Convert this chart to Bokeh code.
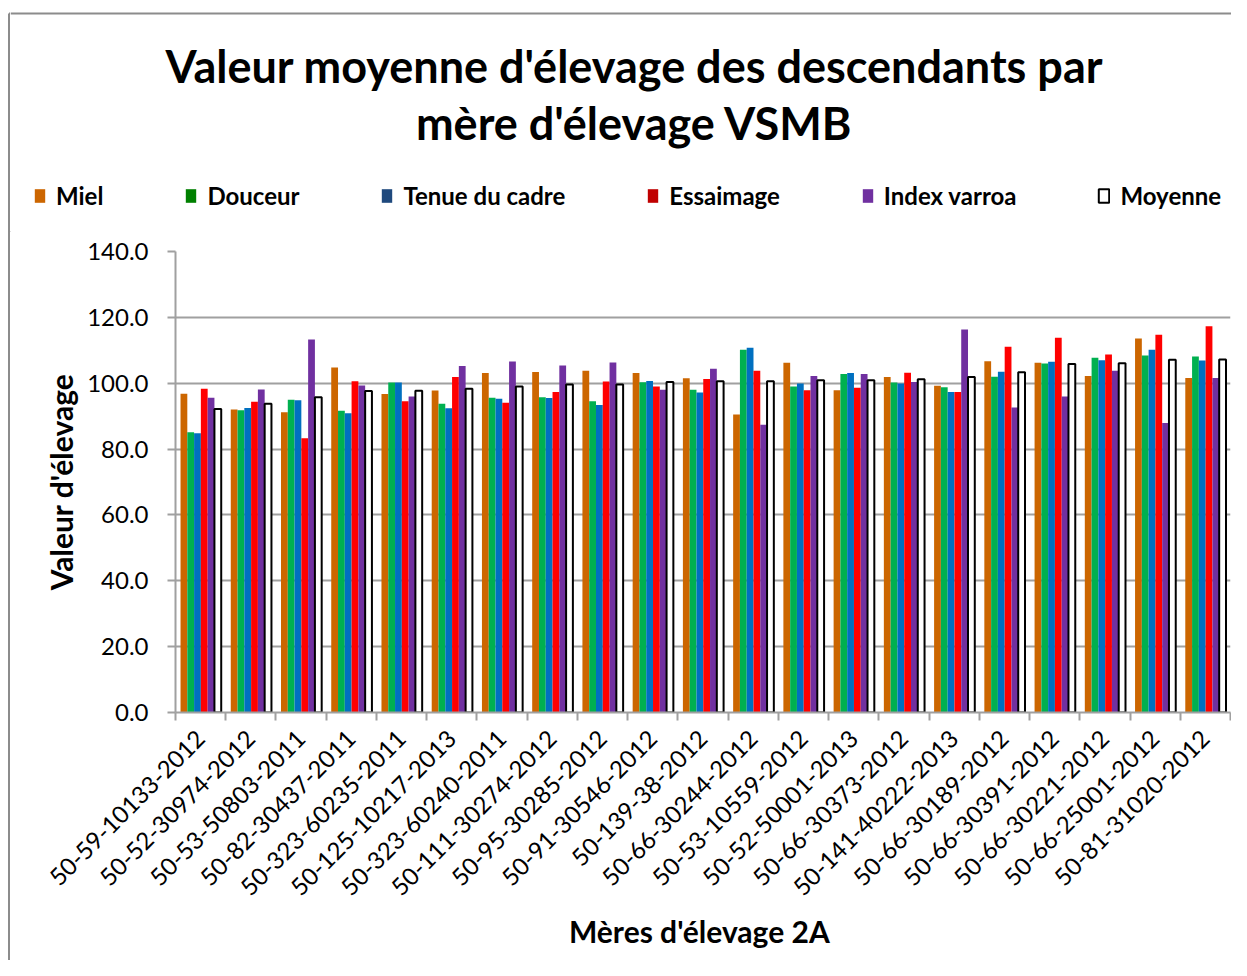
from bokeh.plotting import figure
from bokeh.layouts import column, row
from bokeh.models import (Range1d, FixedTicker, Legend, LegendItem, Label, Span,
                          NumeralTickFormatter)
from bokeh.embed import file_html
from bokeh.resources import INLINE

categories = ["50-59-10133-2012", "50-52-30974-2012", "50-53-50803-2011", "50-82-30437-2011",
              "50-323-60235-2011", "50-125-10217-2013", "50-323-60240-2011", "50-111-30274-2012",
              "50-95-30285-2012", "50-91-30546-2012", "50-139-38-2012", "50-66-30244-2012",
              "50-53-10559-2012", "50-52-50001-2013", "50-66-30373-2012", "50-141-40222-2013",
              "50-66-30189-2012", "50-66-30391-2012", "50-66-30221-2012", "50-66-25001-2012",
              "50-81-31020-2012"]
miel = [96.8, 92.0, 91.2, 104.8, 96.7, 97.8, 103.1, 103.4, 103.8, 103.1, 101.5, 90.5, 106.2,
        97.9, 101.9, 99.2, 106.7, 106.2, 102.2, 113.6, 101.6]
douceur = [85.1, 91.8, 95.0, 91.6, 100.2, 93.8, 95.6, 95.7, 94.5, 100.3, 98.0, 110.2, 99.0,
           102.8, 100.2, 98.8, 102.0, 106.0, 107.7, 108.4, 108.1]
tenue = [84.8, 92.5, 94.8, 90.9, 100.2, 92.4, 95.3, 95.5, 93.4, 100.7, 97.2, 110.8, 99.9,
         103.1, 99.9, 97.3, 103.5, 106.5, 107.0, 110.2, 106.9]
essaimage = [98.3, 94.4, 83.3, 100.6, 94.5, 101.9, 94.1, 97.3, 100.5, 99.0, 101.3, 103.8, 97.9,
             98.6, 103.2, 97.3, 111.1, 113.8, 108.7, 114.7, 117.3]
varroa = [95.6, 98.1, 113.3, 99.3, 96.0, 105.2, 106.6, 105.4, 106.3, 98.0, 104.4, 87.4, 102.2,
          102.8, 100.4, 116.3, 92.6, 96.0, 103.8, 87.9, 101.6]
moyenne = [92.2, 93.8, 95.7, 97.6, 97.7, 98.3, 99.0, 99.6, 99.6, 100.4, 100.6, 100.6, 100.9,
           100.9, 101.2, 101.9, 103.3, 105.8, 106.1, 107.1, 107.2]
series_names = ["Miel", "Douceur", "Tenue du cadre", "Essaimage", "Index varroa", "Moyenne"]
y_ticks = [0, 20, 40, 60, 80, 100, 120, 140]
title_lines = ["Valeur moyenne d'élevage des descendants par", "mère d'élevage VSMB"]

series = [miel, douceur, tenue, essaimage, varroa, moyenne]
bar_colors = ["#cc6600", "#00b050", "#0070c0", "#ff0000", "#7030a0", "#ffffff"]
legend_colors = ["#cc6600", "#008000", "#1f497d", "#c00000", "#7030a0", "#ffffff"]

FONT = "Lato"
BORDER = "#8c8c8c"
n = len(categories)
TOTAL_W = 1231
TOTAL_H = 960
EDGE_W = 10
W = TOTAL_W - EDGE_W
HEAD_H = 232
MAIN_H = TOTAL_H - HEAD_H

# ---------------- left edge strip (chart-area border) ----------------
edge = figure(width=EDGE_W, height=TOTAL_H, output_backend="svg", toolbar_location=None,
              x_range=Range1d(0, EDGE_W), y_range=Range1d(0, TOTAL_H), x_axis_type=None,
              y_axis_type=None, min_border=0, title=None)
edge.outline_line_color = None
edge.frame_align = False
edge.segment(x0=[8.5, 8.5], y0=[0, TOTAL_H - 13], x1=[8.5, EDGE_W], y1=[TOTAL_H - 13, TOTAL_H - 13],
             line_color=BORDER, line_width=2)

# ---------------- header: title + legend ----------------
head = figure(width=W, height=HEAD_H, output_backend="svg", toolbar_location=None,
              x_range=Range1d(0, 1), y_range=Range1d(0, HEAD_H), x_axis_type=None,
              y_axis_type=None, min_border=0, title=None)
head.outline_line_color = None
head.frame_align = False
head.add_layout(Span(location=HEAD_H - 13, dimension="width", line_color=BORDER, line_width=2))

for txt, yy in zip(title_lines, [167, 110]):
    head.add_layout(Label(x=624, y=yy, x_units="screen", y_units="screen", text=txt,
                          text_align="center", text_baseline="middle", text_font=FONT,
                          text_font_size="45px", text_font_style="bold", text_color="black"))

items = []
for k, (name, col) in enumerate(zip(series_names, legend_colors)):
    if k == 5:
        r = head.vbar(x=[-5], top=[0], bottom=[0], width=0.1, fill_color=col,
                      line_color="black", line_width=2)
    else:
        r = head.vbar(x=[-5], top=[0], bottom=[0], width=0.1, fill_color=col, line_color=None)
    items.append(LegendItem(label=name, renderers=[r]))

legend = Legend(items=items, orientation="horizontal", location=(23, 22),
                border_line_color=None, background_fill_alpha=0,
                label_text_font=FONT, label_text_font_style="bold",
                label_text_font_size="24px", label_text_color="black",
                glyph_width=13, glyph_height=17, label_standoff=10, spacing=81,
                padding=0, margin=0)
head.add_layout(legend, "center")

# ---------------- main chart ----------------
p = figure(width=W, height=MAIN_H, output_backend="svg", toolbar_location=None,
           title=None, x_range=Range1d(0, n), y_range=Range1d(0, 140),
           min_border_left=165, min_border_right=1, min_border_bottom=248, min_border_top=19)
p.outline_line_color = None
p.xgrid.visible = False
p.ygrid.grid_line_color = "#a0a0a0"
p.ygrid.grid_line_width = 2
p.ygrid.ticker = FixedTicker(ticks=y_ticks)

bw = 0.135
for k, (vals, col) in enumerate(zip(series, bar_colors)):
    xs = [i + 0.1 + (k + 0.5) * bw for i in range(n)]
    if k == 5:
        p.vbar(x=xs, top=vals, bottom=0, width=bw, fill_color=col,
               line_color="black", line_width=2)
    else:
        p.vbar(x=xs, top=vals, bottom=0, width=bw, fill_color=col, line_color=None)

# Y axis
ya = p.yaxis[0]
ya.ticker = FixedTicker(ticks=y_ticks)
ya.formatter = NumeralTickFormatter(format="0.0")
ya.axis_line_color = "#a0a0a0"
ya.axis_line_width = 2
ya.major_tick_line_color = "#a0a0a0"
ya.major_tick_line_width = 2
ya.major_tick_out = 8
ya.major_tick_in = 0
ya.minor_tick_line_color = None
ya.major_label_text_font = FONT
ya.major_label_text_font_size = "24px"
ya.major_label_text_color = "black"
ya.major_label_standoff = 19
ya.axis_label = "Valeur d'élevage"
ya.axis_label_text_font = FONT
ya.axis_label_text_font_style = "bold"
ya.axis_label_text_font_size = "30px"
ya.axis_label_text_color = "black"
ya.axis_label_standoff = 5

# X axis
xa = p.xaxis[0]
xa.ticker = FixedTicker(ticks=[i + 0.5 for i in range(n)], minor_ticks=list(range(n + 1)))
xa.major_label_overrides = {i + 0.5: c for i, c in enumerate(categories)}
xa.major_label_orientation = 0.785398
xa.axis_line_color = "#a0a0a0"
xa.axis_line_width = 2
xa.major_tick_line_color = None
xa.major_tick_out = 0
xa.major_tick_in = 0
xa.minor_tick_line_color = "#a0a0a0"
xa.minor_tick_line_width = 2
xa.minor_tick_out = 8
xa.minor_tick_in = 0
xa.major_label_text_font = FONT
xa.major_label_text_font_size = "24px"
xa.major_label_text_color = "black"
xa.major_label_standoff = 14
xa.axis_label = "Mères d'élevage  2A"
xa.axis_label_text_font = FONT
xa.axis_label_text_font_style = "bold"
xa.axis_label_text_font_size = "30px"
xa.axis_label_text_color = "black"
xa.axis_label_standoff = 7

layout = row(edge, column(head, p, spacing=0), spacing=0)
open("out.html", "w").write(file_html(layout, INLINE))
